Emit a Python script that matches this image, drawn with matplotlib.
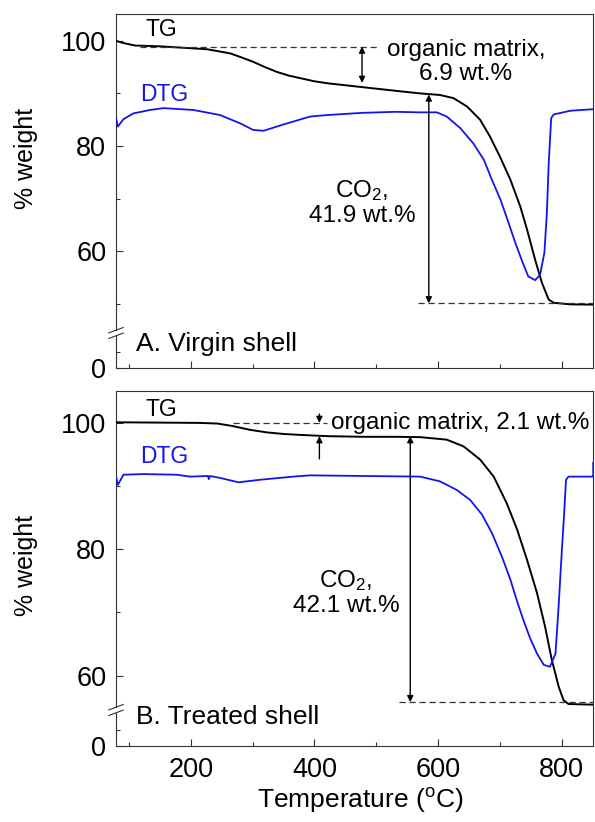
import numpy as np
import matplotlib
matplotlib.use("Agg")
import matplotlib.pyplot as plt

plt.rcParams['font.family'] = ['Liberation Sans', 'DejaVu Sans']
plt.rcParams['mathtext.fontset'] = 'custom'
plt.rcParams['mathtext.rm'] = 'Liberation Sans'
plt.rcParams['mathtext.it'] = 'Liberation Sans:italic'

# ---- virgin shell (A) ----
tg_a_T = [79, 90, 110, 150, 226, 250, 264, 283, 301, 320, 339, 358, 377, 400, 423,
          477, 531, 571, 603, 625, 647, 668, 684, 700, 717, 733, 744, 757, 768,
          779, 787, 814, 851]
tg_a_w = [100.0, 99.6, 99.1, 98.95, 98.4, 97.9, 97.6, 96.8, 96.0, 95.0, 94.1, 93.4,
          92.9, 92.3, 91.9, 91.2, 90.5, 90.0, 89.7, 89.1, 87.5, 85.0, 81.8, 78.0,
          73.6, 68.5, 64.1, 58.4, 54.0, 50.8, 50.2, 49.9, 49.85]
dtg_a_T = [79, 82, 91, 107, 134, 156, 204, 247, 280, 301, 318, 350, 393, 422, 477,
           531, 571, 598, 614, 636, 657, 674, 687, 701, 714, 725, 736, 746, 757,
           765, 772, 776, 779, 783, 787, 814, 851]
dtg_a_w = [85.3, 83.7, 85.1, 86.2, 86.85, 87.2, 86.85, 85.9, 84.3, 83.05, 82.9,
           84.1, 85.6, 85.9, 86.3, 86.5, 86.4, 86.4, 85.6, 83.4, 80.5, 77.4, 73.6,
           69.8, 65.4, 61.6, 58.1, 55.2, 54.5, 55.5, 59.7, 67.2, 76.7, 85.3, 86.0,
           86.7, 87.0]

# ---- treated shell (B) ----
tg_b_T = [79, 215, 243, 268, 296, 323, 350, 377, 422, 480, 531, 571, 614, 641, 668,
          690, 711, 728, 744, 760, 773, 784, 795, 803, 811, 851]
tg_b_w = [100.1, 100.0, 99.9, 99.5, 98.9, 98.5, 98.25, 98.1, 97.9, 97.8, 97.8,
          97.75, 97.35, 96.3, 94.2, 91.5, 87.3, 83.1, 78.3, 73.1, 67.8, 62.5, 58.3,
          56.1, 55.5, 55.4]
dtg_b_T = [79, 82, 91, 123, 177, 199, 228, 229, 231, 247, 277, 312, 366, 393, 477,
           571, 603, 630, 652, 671, 687, 703, 717, 728, 738, 749, 760, 771, 781,
           790, 795, 800, 804, 807, 811, 849, 851, 851]
dtg_b_w = [91.5, 90.2, 91.8, 91.9, 91.8, 91.5, 91.6, 91.1, 91.6, 91.3, 90.6, 91.0,
           91.5, 91.7, 91.6, 91.5, 90.75, 89.4, 87.8, 85.5, 82.6, 78.9, 75.2, 71.7,
           68.8, 65.9, 63.5, 61.7, 61.4, 63.5, 70.9, 79.4, 85.7, 91.0, 91.5, 91.5,
           91.5, 93.7]

# mass balance annotations
base_a, org_a, co2_a = 98.9, 6.9, 41.9
base_b, org_b, co2_b = 100.0, 2.1, 42.1

fig = plt.figure(figsize=(5.95, 8.22), dpi=100)
ax_a = fig.add_axes([0.195, 0.5523, 0.802, 0.4307])
ax_b = fig.add_axes([0.195, 0.0928, 0.802, 0.4319])

spine_c = '#333333'
blue = '#1414ee'


def style_axes(ax, ylo, minor_y, zero_minor, show_x):
    ax.set_xlim(79, 851)
    ax.set_ylim(ylo, 105.1)
    ax.set_yticks([ylo, 60, 80, 100])
    ax.set_yticklabels(['0', '60', '80', '100'])
    ax.set_yticks(minor_y + [zero_minor], minor=True)
    ax.set_xticks([200, 400, 600, 800])
    ax.set_xticks([100, 300, 500, 700], minor=True)
    ax.tick_params(which='both', direction='in', color=spine_c, width=0.8)
    ax.tick_params(which='major', length=5, labelsize=19.5, pad=7)
    ax.tick_params(which='minor', length=3)
    ax.tick_params(axis='x', which='major', pad=8)
    if not show_x:
        ax.tick_params(axis='x', labelbottom=False)
    for s in ax.spines.values():
        s.set_color(spine_c)
        s.set_linewidth(0.8)
    ax.spines['left'].set_visible(False)


def draw_break(ax, brk, height_px):
    # left spine with a gap and two slashes at the axis break
    gap = 2.8 / height_px
    kw = dict(transform=ax.transAxes, color=spine_c, lw=0.8, clip_on=False)
    ax.plot([0, 0], [0, brk - gap], **kw)
    ax.plot([0, 0], [brk + gap, 1], **kw)
    dx = 7.2 / 477.2
    dy = 2.7 / height_px
    for off in (gap, -gap):
        ax.plot([-dx, dx], [brk + off - dy, brk + off + dy], **kw)


dash = dict(ls=(0, (5, 3)), color='#333333', lw=0.9)
arr = dict(arrowstyle='<|-|>', color='black', lw=1.0, mutation_scale=9,
           shrinkA=0, shrinkB=0)
one = dict(arrowstyle='-|>', color='black', lw=1.0, mutation_scale=9,
           shrinkA=0, shrinkB=0)

# panel A
style_axes(ax_a, 37.8, [90, 70, 50], 40.8, False)
draw_break(ax_a, 0.0989, 354)
ax_a.plot(tg_a_T, tg_a_w, color='black', lw=1.4)
ax_a.plot(dtg_a_T, dtg_a_w, color=blue, lw=1.3)
ax_a.plot([118, 501], [base_a, base_a], **dash)
res_a = base_a - org_a - co2_a
ax_a.plot([568, 851], [res_a, res_a], **dash)
ax_a.annotate('', xy=(477, base_a), xytext=(477, base_a - org_a), arrowprops=arr)
ax_a.annotate('', xy=(585, 89.8), xytext=(585, res_a), arrowprops=arr)
ax_a.text(126, 102.2, 'TG', fontsize=16.5, va='center', ha='left')
ax_a.text(118, 89.7, 'DTG', fontsize=16.5, va='center', ha='left', color=blue)
ax_a.text(645, 96.0, 'organic matrix,\n%.1f wt.%%' % org_a, fontsize=17.5,
          ha='center', va='center', multialignment='center', linespacing=1.1)
ax_a.text(477, 69.2, 'CO$_2$,\n%.1f wt.%%' % co2_a, fontsize=17.5,
          ha='center', va='center', multialignment='center', linespacing=1.1)
ax_a.text(111, 42.3, 'A. Virgin shell', fontsize=19, va='center', ha='left')
ax_a.set_ylabel('% weight', fontsize=18)
ax_a.yaxis.set_label_coords(-0.164, 0.593)

# panel B
style_axes(ax_b, 48.9, [90, 70], 51.4, True)
draw_break(ax_b, 0.1006, 355)
ax_b.plot(tg_b_T, tg_b_w, color='black', lw=1.4)
ax_b.plot(dtg_b_T, dtg_b_w, color=blue, lw=1.3)
ax_b.plot([268, 420], [base_b, base_b], **dash)
res_b = base_b - org_b - co2_b
ax_b.plot([536, 851], [res_b, res_b], **dash)
ax_b.annotate('', xy=(408, base_b), xytext=(408, base_b + 1.4), arrowprops=one)
ax_b.annotate('', xy=(408, base_b - org_b), xytext=(408, base_b - org_b - 3.6),
              arrowprops=one)
ax_b.annotate('', xy=(555, base_b - org_b), xytext=(555, res_b), arrowprops=arr)
ax_b.text(126, 102.1, 'TG', fontsize=16.5, va='center', ha='left')
ax_b.text(118, 94.7, 'DTG', fontsize=16.5, va='center', ha='left', color=blue)
ax_b.text(427, 100.0, 'organic matrix, %.1f wt.%%' % org_b, fontsize=17.5,
          ha='left', va='center')
ax_b.text(451, 73.1, 'CO$_2$,\n%.1f wt.%%' % co2_b, fontsize=17.5,
          ha='center', va='center', multialignment='center', linespacing=1.1)
ax_b.text(111, 53.5, 'B. Treated shell', fontsize=19, va='center', ha='left')
ax_b.set_ylabel('% weight', fontsize=18)
ax_b.yaxis.set_label_coords(-0.164, 0.509)

fig.text(360 / 595, 1 - 800 / 822, 'Temperature ($^{\\rm o}$C)', fontsize=19,
         ha='center', va='center')

fig.savefig('out.png', dpi=100)
